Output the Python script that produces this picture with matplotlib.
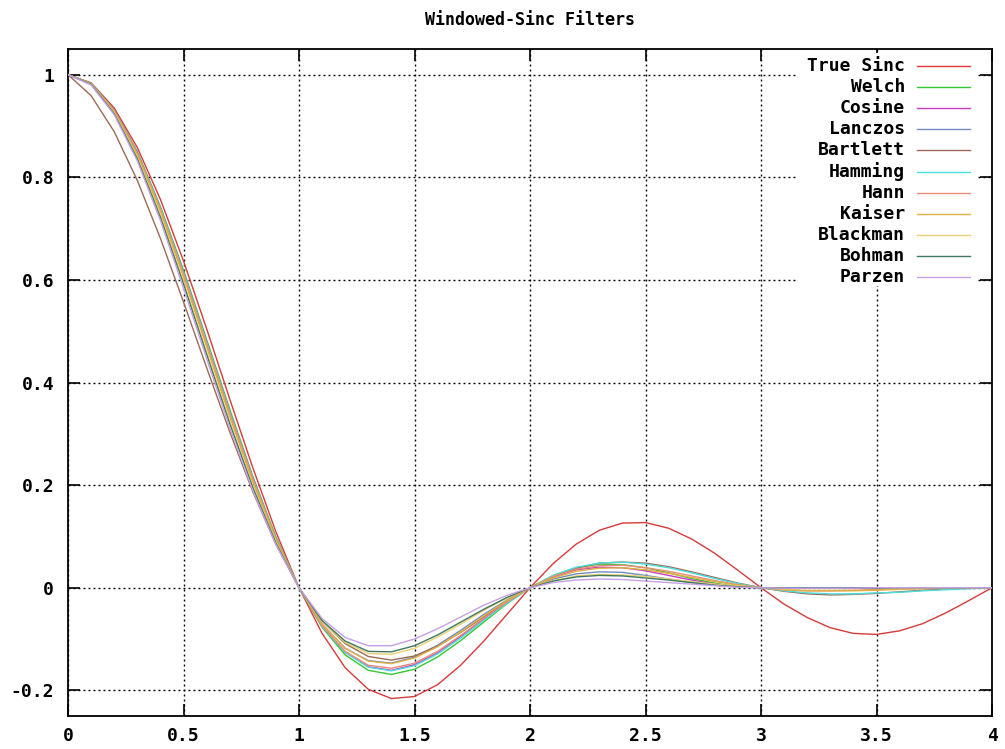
import matplotlib
matplotlib.use('Agg')
import matplotlib.pyplot as plt
import numpy as np
from matplotlib.patches import Rectangle

# sample positions (0.1 steps from 0 to 4)
x = np.linspace(0, 4, 41)

true_sinc = [1.000, 0.984, 0.935, 0.858, 0.757, 0.637, 0.505, 0.368, 0.234, 0.109,
             0.000, -0.089, -0.156, -0.198, -0.216, -0.212, -0.189, -0.151, -0.104, -0.052,
             0.000, 0.047, 0.085, 0.112, 0.126, 0.127, 0.116, 0.095, 0.067, 0.034,
             0.000, -0.032, -0.058, -0.078, -0.089, -0.091, -0.084, -0.070, -0.049, -0.025, 0.000]
welch = [1.000, 0.983, 0.931, 0.850, 0.743, 0.619, 0.484, 0.348, 0.217, 0.099,
         0.000, -0.077, -0.131, -0.161, -0.169, -0.159, -0.135, -0.103, -0.067, -0.031,
         0.000, 0.024, 0.039, 0.046, 0.045, 0.039, 0.029, 0.018, 0.009, 0.002,
         0.000, 0.000, 0.000, 0.000, 0.000, 0.000, 0.000, 0.000, 0.000, 0.000, 0.000]
cosine = [1.000, 0.982, 0.930, 0.848, 0.740, 0.615, 0.480, 0.343, 0.214, 0.097,
          0.000, -0.075, -0.126, -0.154, -0.161, -0.150, -0.127, -0.095, -0.061, -0.028,
          0.000, 0.021, 0.035, 0.040, 0.039, 0.033, 0.024, 0.015, 0.007, 0.002,
          0.000, 0.000, 0.000, 0.000, 0.000, 0.000, 0.000, 0.000, 0.000, 0.000, 0.000]
lanczos = [1.000, 0.982, 0.929, 0.844, 0.735, 0.608, 0.472, 0.336, 0.207, 0.094,
           0.000, -0.071, -0.118, -0.142, -0.147, -0.135, -0.112, -0.083, -0.052, -0.024,
           0.000, 0.017, 0.027, 0.031, 0.030, 0.024, 0.017, 0.010, 0.005, 0.001,
           0.000, 0.000, 0.000, 0.000, 0.000, 0.000, 0.000, 0.000, 0.000, 0.000, 0.000]
bartlett = [1.000, 0.959, 0.889, 0.794, 0.681, 0.557, 0.429, 0.304, 0.187, 0.085,
            0.000, -0.065, -0.109, -0.134, -0.141, -0.133, -0.114, -0.087, -0.057, -0.027,
            0.000, 0.022, 0.038, 0.048, 0.050, 0.048, 0.041, 0.031, 0.020, 0.009,
            0.000, -0.007, -0.012, -0.014, -0.013, -0.011, -0.008, -0.005, -0.002, -0.001, 0.000]
hamming = [1.000, 0.982, 0.930, 0.847, 0.740, 0.614, 0.479, 0.343, 0.213, 0.097,
           0.000, -0.075, -0.126, -0.155, -0.162, -0.152, -0.129, -0.098, -0.064, -0.030,
           0.000, 0.024, 0.040, 0.048, 0.050, 0.046, 0.039, 0.029, 0.018, 0.008,
           0.000, -0.006, -0.010, -0.012, -0.012, -0.010, -0.009, -0.006, -0.004, -0.002, 0.000]
hann = [1.000, 0.982, 0.930, 0.847, 0.738, 0.612, 0.477, 0.341, 0.212, 0.096,
        0.000, -0.074, -0.124, -0.151, -0.157, -0.147, -0.124, -0.093, -0.060, -0.028,
        0.000, 0.022, 0.036, 0.043, 0.044, 0.039, 0.032, 0.023, 0.014, 0.006,
        0.000, -0.004, -0.006, -0.006, -0.005, -0.003, -0.002, -0.001, 0.000, 0.000, 0.000]
kaiser = [1.000, 0.982, 0.928, 0.844, 0.734, 0.607, 0.471, 0.335, 0.207, 0.094,
          0.000, -0.071, -0.118, -0.143, -0.148, -0.137, -0.115, -0.086, -0.055, -0.025,
          0.000, 0.019, 0.032, 0.038, 0.039, 0.035, 0.028, 0.020, 0.012, 0.005,
          0.000, -0.004, -0.006, -0.006, -0.006, -0.005, -0.003, -0.002, -0.001, 0.000, 0.000]
blackman = [1.000, 0.981, 0.926, 0.839, 0.727, 0.597, 0.460, 0.325, 0.199, 0.089,
            0.000, -0.065, -0.107, -0.128, -0.130, -0.118, -0.096, -0.071, -0.044, -0.020,
            0.000, 0.014, 0.023, 0.026, 0.025, 0.022, 0.017, 0.012, 0.007, 0.003,
            0.000, -0.002, -0.002, -0.002, -0.002, -0.001, -0.001, 0.000, 0.000, 0.000, 0.000]
bohman = [1.000, 0.981, 0.924, 0.836, 0.722, 0.592, 0.455, 0.320, 0.195, 0.087,
          0.000, -0.064, -0.104, -0.124, -0.125, -0.113, -0.092, -0.067, -0.042, -0.019,
          0.000, 0.013, 0.021, 0.024, 0.023, 0.019, 0.015, 0.010, 0.005, 0.002,
          0.000, -0.001, -0.001, -0.001, -0.001, -0.001, 0.000, 0.000, 0.000, 0.000, 0.000]
parzen = [1.000, 0.980, 0.922, 0.832, 0.716, 0.584, 0.447, 0.312, 0.189, 0.084,
          0.000, -0.060, -0.097, -0.113, -0.113, -0.100, -0.080, -0.057, -0.034, -0.015,
          0.000, 0.010, 0.015, 0.017, 0.016, 0.013, 0.010, 0.007, 0.004, 0.001,
          0.000, -0.001, -0.001, -0.001, -0.001, 0.000, 0.000, 0.000, 0.000, 0.000, 0.000]

names = ['True Sinc', 'Welch', 'Cosine', 'Lanczos', 'Bartlett', 'Hamming',
         'Hann', 'Kaiser', 'Blackman', 'Bohman', 'Parzen']
series = [true_sinc, welch, cosine, lanczos, bartlett, hamming,
          hann, kaiser, blackman, bohman, parzen]
colors = ['#d83a3a', '#33c833', '#c83cc8', '#6f8cc4', '#9c6a55', '#4adede',
          '#ea8a78', '#e0b040', '#ead070', '#3d7a62', '#c8a0e6']

xticks = [0, 0.5, 1, 1.5, 2, 2.5, 3, 3.5, 4]
xticklabels = ['0', '0.5', '1', '1.5', '2', '2.5', '3', '3.5', '4']
yticks = [-0.2, 0, 0.2, 0.4, 0.6, 0.8, 1]
yticklabels = ['-0.2', '0', '0.2', '0.4', '0.6', '0.8', '1']

font = {'family': 'DejaVu Sans Mono', 'weight': 'bold', 'size': 13}
title_font = {'family': 'DejaVu Sans Mono', 'weight': 'bold', 'size': 12}

fig = plt.figure(figsize=(10.05, 7.49), dpi=100)
ax = fig.add_axes([68 / 1005, 1 - 716 / 749, 924 / 1005, 667 / 749])

for name, vals, col in zip(names, series, colors):
    ax.plot(x, vals, color=col, lw=1.0, zorder=3)

ax.set_xlim(0, 4)
ax.set_ylim(-0.25, 1.05)
ax.set_xticks(xticks)
ax.set_xticklabels(xticklabels, fontdict=font)
ax.set_yticks(yticks)
ax.set_yticklabels(yticklabels, fontdict=font)
ax.tick_params(direction='in', length=8.5, width=1.2, top=True, right=True)
ax.tick_params(axis='x', pad=8)
ax.tick_params(axis='y', pad=10)
ax.grid(True, color='black', lw=1.0, linestyle=(0, (1.4, 2.2)), zorder=1)
ax.set_axisbelow(True)
for sp in ax.spines.values():
    sp.set_linewidth(1.3)

ax.set_title('Windowed-Sinc Filters', fontdict=title_font, pad=17)

# key: white box with right-aligned labels and line samples
ax.add_patch(Rectangle((0.790, 0.644), 0.194, 0.35, transform=ax.transAxes,
                       facecolor='white', edgecolor='none', zorder=2))
for i, (name, col) in enumerate(zip(names, colors)):
    yy = 1 - (17 + i * 21.1) / 667
    ax.text(0.906, yy, name, ha='right', va='center', transform=ax.transAxes,
            fontdict=font, zorder=4)
    ax.plot([0.919, 0.976], [yy, yy], color=col, lw=1.0,
            transform=ax.transAxes, zorder=4)

fig.savefig('out.png', dpi=100)
